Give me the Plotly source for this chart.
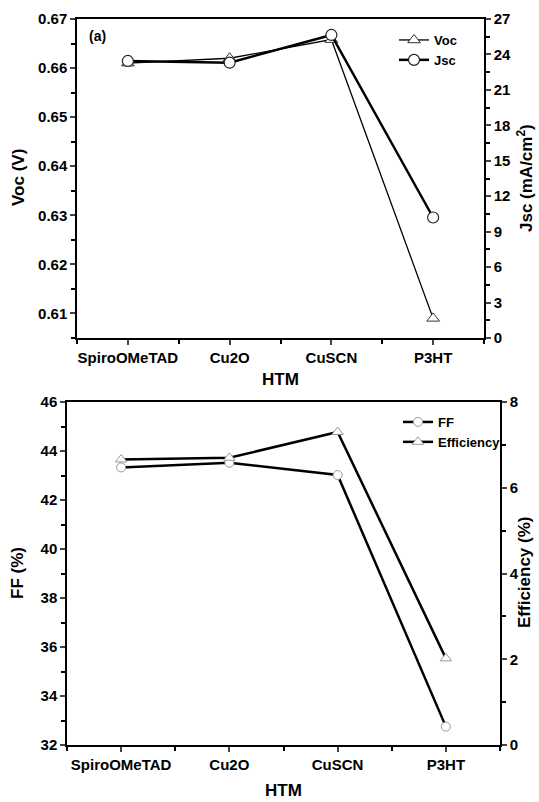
import plotly.graph_objects as go

categories = ["SpiroOMeTAD", "Cu2O", "CuSCN", "P3HT"]
voc = [0.661, 0.662, 0.6658, 0.609]
jsc = [23.45, 23.3, 25.65, 10.2]
ff = [43.33, 43.52, 43.02, 32.75]
eff = [6.66, 6.7, 7.3, 2.02]

xpos = list(range(len(categories)))
FONT = "Liberation Sans, Arial, sans-serif"
tickfont = dict(family=FONT, size=15, color="black", weight="bold")

fig = go.Figure()

fig.add_trace(go.Scatter(x=xpos, y=voc, name="Voc", mode="lines+markers",
                         line=dict(color="black", width=1.3),
                         marker=dict(symbol="triangle-up", size=11, color="white",
                                     line=dict(color="#333", width=1)),
                         xaxis="x", yaxis="y", legend="legend"))
fig.add_trace(go.Scatter(x=xpos, y=jsc, name="Jsc", mode="lines+markers",
                         line=dict(color="black", width=2.5),
                         marker=dict(symbol="circle", size=11, color="white",
                                     line=dict(color="#222", width=1.2)),
                         xaxis="x", yaxis="y2", legend="legend"))
fig.add_trace(go.Scatter(x=xpos, y=ff, name="FF", mode="lines+markers",
                         line=dict(color="black", width=2.5),
                         marker=dict(symbol="circle", size=9, color="white",
                                     line=dict(color="#999", width=1)),
                         xaxis="x2", yaxis="y3", legend="legend2"))
fig.add_trace(go.Scatter(x=xpos, y=eff, name="Efficiency", mode="lines+markers",
                         line=dict(color="black", width=2.5),
                         marker=dict(symbol="triangle-up", size=10, color="white",
                                     line=dict(color="#999", width=1)),
                         xaxis="x2", yaxis="y4", legend="legend2"))

H = 802.0
W = 539.0
top_dom = [1 - 338 / H, 1 - 19 / H]
bot_dom = [1 - 745 / H, 1 - 402 / H]
top_x = [77 / W, 484 / W]
bot_x = [67 / W, 500 / W]

common_x = dict(range=[-0.5, 3.5], tickmode="array", tickvals=xpos, ticktext=categories,
                ticks="outside", ticklen=5, tickwidth=1.5, showline=True, linecolor="black",
                linewidth=1.5, mirror=True, showgrid=False, zeroline=False, tickfont=tickfont,
                automargin=False,
                minor=dict(tickmode="array", tickvals=[-0.5, 0.5, 1.5, 2.5, 3.5],
                           ticks="outside", ticklen=4, tickcolor="black", tickwidth=1.5))

def yax(**kw):
    d = dict(ticks="outside", ticklen=5, tickwidth=1.5, showline=True, linecolor="black",
             linewidth=1.5, showgrid=False, zeroline=False, tickfont=tickfont, automargin=False,
             minor=dict(ticks="outside", ticklen=4, tickcolor="black", tickwidth=1.5))
    d.update(kw)
    return d

def ann(text, x, y, angle=0, size=17):
    return dict(text=text, x=x / W, y=1 - y / H, xref="paper", yref="paper",
                xanchor="center", yanchor="middle", showarrow=False, textangle=angle,
                font=dict(family=FONT, size=size, color="black", weight="bold"))

legfont = dict(family=FONT, size=13, color="black", weight="bold")

fig.update_layout(
    width=539, height=802,
    margin=dict(l=0, r=0, t=0, b=0, autoexpand=False),
    paper_bgcolor="white", plot_bgcolor="white",
    showlegend=True,
    xaxis=dict(domain=top_x, anchor="y", **common_x),
    xaxis2=dict(domain=bot_x, anchor="y3", **common_x),
    yaxis=yax(domain=top_dom, anchor="x", range=[0.605, 0.67], dtick=0.01, tick0=0.6,
              tickformat=".2f", minor_dtick=0.005),
    yaxis2=yax(domain=top_dom, anchor="x", overlaying="y", side="right", range=[0, 27],
               dtick=3, minor_dtick=1.5),
    yaxis3=yax(domain=bot_dom, anchor="x2", range=[32, 46], dtick=2, minor_dtick=1),
    yaxis4=yax(domain=bot_dom, anchor="x2", overlaying="y3", side="right", range=[0, 8],
               dtick=2, minor_dtick=1),
    legend=dict(x=394 / W, y=1 - 25 / H, xanchor="left", yanchor="top",
                bgcolor="rgba(0,0,0,0)", font=legfont, itemwidth=30, tracegroupgap=0),
    legend2=dict(x=398 / W, y=1 - 407 / H, xanchor="left", yanchor="top",
                 bgcolor="rgba(0,0,0,0)", font=legfont, itemwidth=30, tracegroupgap=0),
    annotations=[
        ann("(a)", 97, 36, size=14),
        ann("Voc (V)", 18, 178, -90),
        ann("Jsc (mA/cm<sup>2</sup>)", 525, 178, -90),
        ann("HTM", 280, 379),
        ann("FF (%)", 17, 573, -90),
        ann("Efficiency (%)", 524, 573, -90),
        ann("HTM", 283, 790),
    ],
)

fig.write_html("out.html", config={"displayModeBar": False},
               post_script="document.body.style.margin='0';document.body.style.padding='0';")
